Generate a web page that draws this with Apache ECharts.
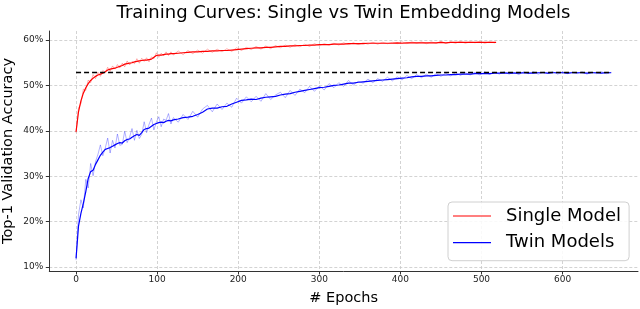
<!DOCTYPE html>
<html>
<head>
<meta charset="utf-8">
<script src="https://cdn.jsdelivr.net/npm/echarts@6/dist/echarts.min.js"></script>
<style>
html,body{margin:0;padding:0;background:#fff;}
#chart{width:640px;height:309px;}
</style>
</head>
<body>
<div id="chart"></div>
<script>
// ---------- DATA ----------
var xTicks = [0, 100, 200, 300, 400, 500, 600];
var yTicks = [10, 20, 30, 40, 50, 60];
var baselineAcc = 52.85;
var baselineEpochs = [0, 660];

var singleEpochs = [0,3,6,9,12,15,18,21,24,27,30,33,36,39,42,45,48,51,54,57,60,63,66,69,72,75,78,81,84,87,90,93,96,99,102,105,108,111,114,117,120,
126,132,138,144,150,156,162,168,174,180,186,192,198,204,210,216,222,228,234,240,246,252,258,264,270,276,282,288,294,300,306,312,318,324,330,336,342,348,354,360,366,372,378,384,390,396,402,408,414,420,426,432,438,444,450,456,462,468,474,480,486,492,498,504,510,516,518];
var singleSmooth = [39.8,44.2,46.6,48.3,49.5,50.4,51.1,51.6,52.0,52.3,52.5,52.7,53.0,53.4,53.6,53.7,53.8,54.0,54.2,54.4,54.7,54.8,54.9,55.0,55.2,55.3,55.4,55.5,55.6,55.6,55.7,55.8,56.2,56.6,56.7,56.7,56.8,56.9,56.9,57.0,57.0,
57.1,57.2,57.3,57.4,57.4,57.5,57.5,57.6,57.6,57.7,57.7,57.8,57.9,58.0,58.1,58.2,58.3,58.3,58.4,58.4,58.5,58.6,58.6,58.7,58.7,58.8,58.8,58.9,58.9,59.0,59.0,59.0,59.1,59.1,59.1,59.2,59.2,59.2,59.2,59.3,59.3,59.3,59.3,59.3,59.3,59.4,59.3,59.4,59.4,59.4,59.4,59.4,59.4,59.4,59.5,59.4,59.5,59.5,59.5,59.5,59.5,59.5,59.5,59.5,59.5,59.5,59.5];
var singleRaw = [39.6,45.0,46.0,49.2,48.9,51.2,50.6,52.4,51.5,52.9,52.0,53.3,52.8,54.0,53.1,54.3,53.6,54.6,53.9,54.9,54.1,55.4,54.5,55.3,54.8,55.9,54.9,56.0,55.3,56.1,55.2,56.3,55.9,57.2,56.2,57.1,56.5,57.4,56.6,57.4,56.7,
57.6,56.8,57.7,57.0,57.8,57.1,58.0,57.3,58.0,57.4,58.1,57.5,58.3,57.7,58.4,57.9,58.6,58.0,58.7,58.1,58.8,58.3,58.9,58.4,59.0,58.5,59.1,58.6,59.2,58.8,59.2,58.9,59.3,58.9,59.4,59.0,59.4,59.0,59.4,59.1,59.5,59.1,59.5,59.2,59.5,59.2,59.6,59.2,59.6,59.3,59.6,59.2,59.6,59.3,59.7,59.3,59.6,59.3,59.7,59.3,59.6,59.4,59.7,59.3,59.6,59.4,59.5];

var twinEpochs = [0,3,6,9,12,15,18,21,24,27,30,33,36,39,42,45,48,51,54,57,60,63,66,69,72,75,78,81,84,87,90,93,96,99,102,105,108,111,114,117,120,
126,132,138,144,150,156,162,168,174,180,186,192,198,204,210,216,222,228,234,240,246,252,258,264,270,276,282,288,294,300,306,312,318,324,330,336,342,348,354,360,366,372,378,384,390,396,402,408,414,420,426,432,438,444,450,456,462,468,474,480,486,492,498,504,510,516,522,528,534,540,546,552,558,564,570,576,582,588,594,600,606,612,618,624,630,636,642,648,654,660];
var twinSmooth = [11.9,19.0,21.8,24.0,26.6,29.5,31.0,31.3,32.6,33.6,34.6,35.3,35.9,36.1,36.3,36.6,36.9,37.2,37.4,37.3,37.8,38.1,38.2,38.6,38.9,39.2,39.0,39.6,40.3,40.5,40.6,41.0,41.4,41.6,41.8,41.9,41.8,42.1,42.3,42.2,42.4,
42.6,42.9,43.0,43.2,43.6,44.1,44.8,45.0,45.0,45.3,45.4,45.9,46.3,46.7,46.8,47.0,46.9,47.2,47.4,47.5,47.6,47.9,48.1,48.2,48.5,48.7,48.9,49.1,49.3,49.5,49.6,49.8,50.0,50.1,50.3,50.5,50.5,50.7,50.8,50.9,51.0,51.1,51.2,51.3,51.4,51.5,51.6,51.7,51.9,52.0,52.0,52.1,52.1,52.2,52.3,52.3,52.4,52.4,52.5,52.5,52.5,52.6,52.6,52.6,52.6,52.7,52.7,52.7,52.7,52.7,52.7,52.8,52.7,52.7,52.8,52.8,52.7,52.8,52.8,52.8,52.7,52.8,52.8,52.8,52.7,52.8,52.8,52.7,52.8,52.8];
var twinRaw = [11.5,21.5,24.8,23.0,29.3,27.4,32.8,30.1,33.2,34.8,36.9,34.5,36.2,38.4,35.1,37.9,36.2,39.3,36.8,37.0,39.9,37.4,38.6,40.5,37.9,40.1,38.3,39.2,42.0,39.6,41.4,42.8,40.2,41.9,43.1,40.9,42.6,42.3,43.8,41.5,42.9,
41.9,43.6,42.5,44.3,43.0,44.8,45.6,44.2,45.9,44.7,46.1,45.2,47.2,46.1,47.5,46.4,47.6,46.5,48.2,46.9,47.9,48.5,47.3,48.9,47.8,49.2,48.4,49.8,48.7,49.9,49.0,50.4,49.5,50.6,49.8,51.1,50.1,50.9,50.5,51.4,50.6,51.5,50.9,51.8,51.0,51.9,51.2,52.2,51.5,52.4,51.7,52.5,51.8,52.6,52.0,52.7,52.1,52.8,52.2,52.8,52.3,52.9,52.3,53.0,52.4,52.9,52.5,53.0,52.5,52.9,52.4,53.0,52.6,53.0,52.5,52.9,52.6,53.0,52.5,53.0,52.6,52.9,52.6,53.0,52.5,52.9,52.6,53.0,52.6,52.9];

// ---------- BUILD ----------
function zip(xs, ys) { var out = []; for (var i = 0; i < xs.length; i++) out.push([xs[i], ys[i]]); return out; }

var FONT = 'DejaVu Sans';
var chart = echarts.init(document.getElementById('chart'), null, {renderer: 'canvas'});

function lineSeries(name, data, color, width, opacity, z) {
  return {
    name: name, type: 'line', data: data, showSymbol: false, symbol: 'none',
    lineStyle: {color: color, width: width, opacity: opacity},
    itemStyle: {color: color}, silent: true, z: z, animation: false
  };
}

var option = {
  animation: false,
  backgroundColor: '#ffffff',
  title: {
    text: 'Training Curves: Single vs Twin Embedding Models',
    left: 343.5, textAlign: 'center', top: 4, padding: 0,
    textStyle: {fontFamily: FONT, fontSize: 18, fontWeight: 'normal', color: '#000'}
  },
  grid: {left: 49.3, right: 2, top: 31, bottom: 38, containLabel: false, outerBoundsMode: 'none'},
  xAxis: {
    type: 'value', min: -33, max: 693,
    name: '# Epochs', nameLocation: 'middle', nameGap: 20,
    nameTextStyle: {fontFamily: FONT, fontSize: 14.5, color: '#000'},
    axisLine: {show: true, onZero: false, lineStyle: {color: '#333', width: 1}},
    axisTick: {show: true, length: 3.5, customValues: xTicks, lineStyle: {color: '#333'}},
    axisLabel: {customValues: xTicks, fontFamily: FONT, fontSize: 9, color: '#222', margin: 4},
    splitLine: {show: true, lineStyle: {color: '#c8c8c8', type: [3, 2], width: 0.8}}
  },
  yAxis: {
    type: 'value', min: 9.1, max: 62,
    name: 'Top-1 Validation Accuracy', nameLocation: 'middle', nameGap: 34, nameMoveOverlap: false,
    nameTextStyle: {fontFamily: FONT, fontSize: 14.5, color: '#000'},
    axisLine: {show: true, onZero: false, lineStyle: {color: '#333', width: 1}},
    axisTick: {show: true, length: 3.5, customValues: yTicks, lineStyle: {color: '#333'}},
    axisLabel: {customValues: yTicks, fontFamily: FONT, fontSize: 9, color: '#222', margin: 6,
      formatter: function (v) { return v + '%'; }},
    splitLine: {show: true, lineStyle: {color: '#c8c8c8', type: [3, 2], width: 0.8}}
  },
  legend: {
    data: ['Single Model', 'Twin Models'],
    orient: 'vertical', left: 448, top: 202,
    padding: [4, 8, 8, 5], itemGap: 6.7,
    itemWidth: 38, itemHeight: 1.2, icon: 'rect',
    backgroundColor: 'rgba(255,255,255,0.85)', borderColor: '#d0d0d0', borderWidth: 1, borderRadius: 4,
    textStyle: {fontFamily: FONT, fontSize: 18, color: '#000', lineHeight: 20, padding: [0, 0, 0, 10]}
  },
  series: [
    lineSeries('Single raw', zip(singleEpochs, singleRaw), '#ff0000', 1, 0.3, 1),
    lineSeries('Twin raw', zip(twinEpochs, twinRaw), '#0000ff', 1, 0.3, 1),
    lineSeries('Single Model', zip(singleEpochs, singleSmooth), '#ff0000', 1.2, 1, 2),
    lineSeries('Twin Models', zip(twinEpochs, twinSmooth), '#0000ff', 1.2, 1, 2),
    {
      name: 'Baseline', type: 'line', showSymbol: false, symbol: 'none', silent: true, z: 3,
      data: zip(baselineEpochs, [baselineAcc, baselineAcc]),
      lineStyle: {color: '#000', width: 1.5, type: [5, 3]}
    }
  ]
};
chart.setOption(option);
</script>
</body>
</html>
